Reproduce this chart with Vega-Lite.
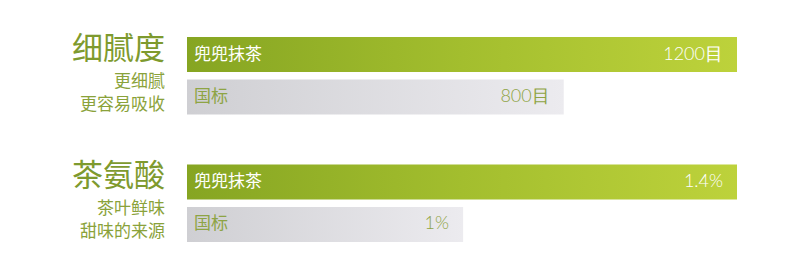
{
  "$schema": "https://vega.github.io/schema/vega-lite/v6.json",
  "width": 550,
  "height": 205,
  "autosize": {"type": "none"},
  "padding": {"left": 187, "right": 53, "top": 37, "bottom": 11},
  "background": "#ffffff",
  "config": {"view": {"stroke": null}, "font": "Noto Sans CJK SC"},
  "datasets": {
    "bars": [
      {"slot": "a1", "series": "兜兜抹茶", "value": "1200目", "length": 100},
      {"slot": "a2", "series": "国标", "value": "800目", "length": 68.5},
      {"slot": "b1", "series": "兜兜抹茶", "value": "1.4%", "length": 100},
      {"slot": "b2", "series": "国标", "value": "1%", "length": 50.2}
    ],
    "labels": [
      {"slot": "a1", "kind": "title", "text": "细腻度"},
      {"slot": "a2", "kind": "sub1", "text": "更细腻"},
      {"slot": "a2", "kind": "sub2", "text": "更容易吸收"},
      {"slot": "b1", "kind": "title", "text": "茶氨酸"},
      {"slot": "b2", "kind": "sub1", "text": "茶叶鲜味"},
      {"slot": "b2", "kind": "sub2", "text": "甜味的来源"}
    ]
  },
  "encoding": {
    "y": {
      "field": "slot",
      "type": "nominal",
      "scale": {"domain": ["a1", "a2", "gap", "b1", "b2"], "paddingInner": 0.176, "paddingOuter": 0},
      "axis": null
    }
  },
  "layer": [
    {
      "data": {"name": "bars"},
      "transform": [{"filter": "datum.series === '兜兜抹茶'"}],
      "mark": {
        "type": "bar",
        "color": {
          "gradient": "linear", "x1": 0, "x2": 1, "y1": 0, "y2": 0,
          "stops": [{"offset": 0, "color": "#86a522"}, {"offset": 0.5, "color": "#a3be2e"}, {"offset": 1, "color": "#bdd23b"}]
        }
      },
      "encoding": {
        "x": {"field": "length", "type": "quantitative", "scale": {"domain": [0, 100], "nice": false}, "axis": null}
      }
    },
    {
      "data": {"name": "bars"},
      "transform": [{"filter": "datum.series === '国标'"}],
      "mark": {
        "type": "bar",
        "color": {
          "gradient": "linear", "x1": 0, "x2": 1, "y1": 0, "y2": 0,
          "stops": [{"offset": 0, "color": "#cfcfd3"}, {"offset": 1, "color": "#ecebef"}]
        }
      },
      "encoding": {
        "x": {"field": "length", "type": "quantitative"}
      }
    },
    {
      "data": {"name": "bars"},
      "mark": {"type": "text", "align": "left", "baseline": "middle", "dx": 7, "fontSize": 17},
      "encoding": {
        "x": {"datum": 0, "type": "quantitative"},
        "text": {"field": "series"},
        "color": {"field": "series", "type": "nominal", "scale": {"domain": ["兜兜抹茶", "国标"], "range": ["#ffffff", "#8ea444"]}, "legend": null}
      }
    },
    {
      "data": {"name": "bars"},
      "mark": {"type": "text", "align": "right", "baseline": "middle", "dx": -14, "fontSize": 18, "font": "Lato", "fontWeight": 300},
      "encoding": {
        "x": {"field": "length", "type": "quantitative"},
        "text": {"field": "value"},
        "color": {"field": "series", "type": "nominal"}
      }
    },
    {
      "data": {"name": "labels"},
      "transform": [{"filter": "datum.kind === 'title'"}],
      "mark": {"type": "text", "align": "right", "baseline": "middle", "dx": -22, "dy": -5, "fontSize": 31, "color": "#7e9a2e"},
      "encoding": {"x": {"datum": 0, "type": "quantitative"}, "text": {"field": "text"}}
    },
    {
      "data": {"name": "labels"},
      "transform": [{"filter": "datum.kind === 'sub1'"}],
      "mark": {"type": "text", "align": "right", "baseline": "middle", "dx": -22, "dy": -15, "fontSize": 17, "color": "#8aa23a"},
      "encoding": {"x": {"datum": 0, "type": "quantitative"}, "text": {"field": "text"}}
    },
    {
      "data": {"name": "labels"},
      "transform": [{"filter": "datum.kind === 'sub2'"}],
      "mark": {"type": "text", "align": "right", "baseline": "middle", "dx": -22, "dy": 8, "fontSize": 17, "color": "#8aa23a"},
      "encoding": {"x": {"datum": 0, "type": "quantitative"}, "text": {"field": "text"}}
    }
  ]
}
